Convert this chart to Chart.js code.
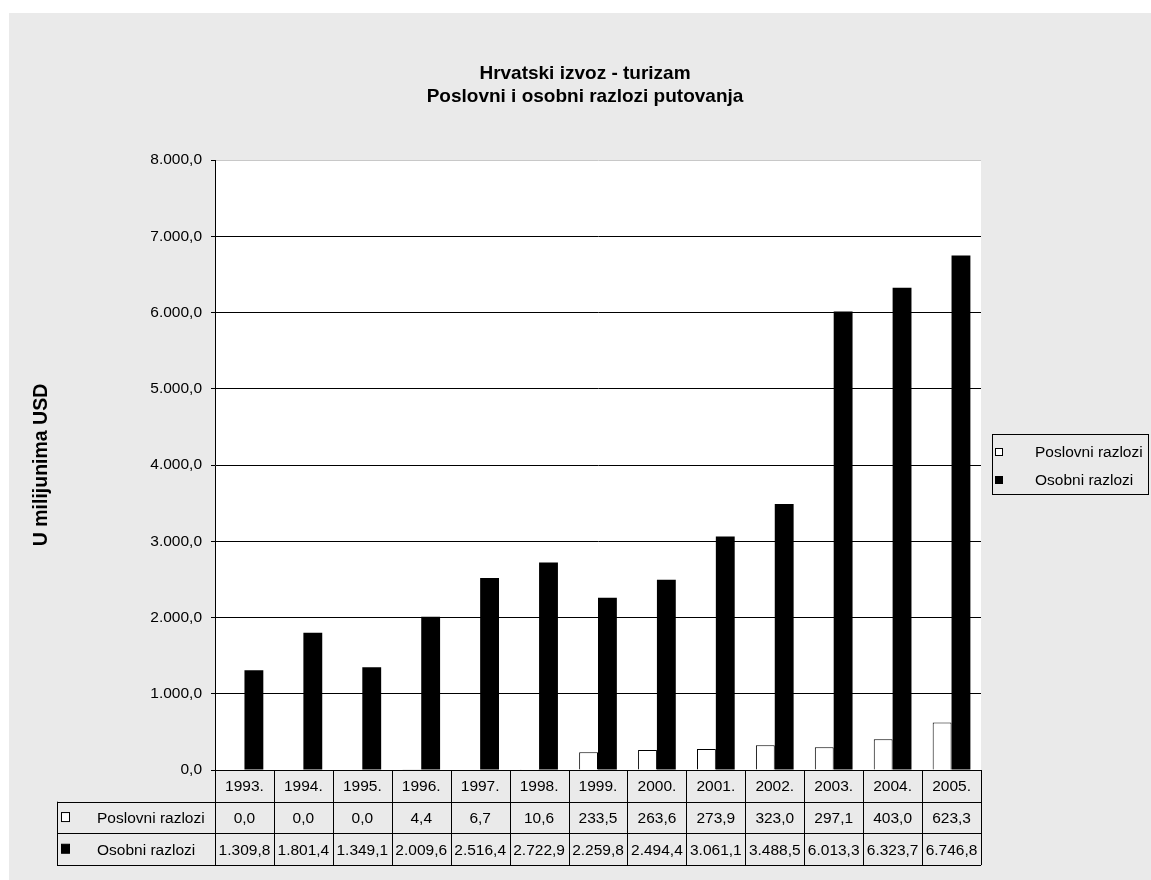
<!DOCTYPE html>
<html lang="hr">
<head>
  <meta charset="UTF-8" />
  <title>Hrvatski izvoz - turizam</title>
  <style>
    html, body {
      margin: 0;
      padding: 0;
      width: 100%;
      height: 100%;
      overflow: hidden;
      background-color: white;
    }
    #panel {
      position: absolute;
      left: 9px;
      top: 13px;
      width: 1152px;
      height: 867px;
      background-color: #eaeaea;
    }
  </style>
  <script src="https://cdn.jsdelivr.net/npm/chart.js"></script>
</head>
<body>
  <div id="panel">
    <canvas id="chart"></canvas>
  </div>

  <script>
    const years = ['1993.', '1994.', '1995.', '1996.', '1997.', '1998.', '1999.',
                   '2000.', '2001.', '2002.', '2003.', '2004.', '2005.'];
    const poslovni = [0.0, 0.0, 0.0, 4.4, 6.7, 10.6, 233.5, 263.6, 273.9, 323.0, 297.1, 403.0, 623.3];
    const osobni = [1309.8, 1801.4, 1349.1, 2009.6, 2516.4, 2722.9, 2259.8, 2494.4,
                    3061.1, 3488.5, 6013.3, 6323.7, 6746.8];
    const seriesNames = ['Poslovni razlozi', 'Osobni razlozi'];
    const titleLines = ['Hrvatski izvoz - turizam', 'Poslovni i osobni razlozi putovanja'];
    const yTitle = 'U milijunima USD';

    const FONT = "'Liberation Sans', Arial, sans-serif";
    const PANEL = '#eaeaea';

    // 1309.8 -> "1.309,8"
    function fmt(v) {
      const parts = v.toFixed(1).split('.');
      return parts[0].replace(/\B(?=(\d{3})+(?!\d))/g, '.') + ',' + parts[1];
    }

    // white plot area behind the bars
    const plotBackground = {
      id: 'plotBackground',
      beforeDraw: (chart) => {
        const a = chart.chartArea;
        const ctx = chart.ctx;
        ctx.save();
        ctx.fillStyle = 'white';
        ctx.fillRect(a.left, a.top, a.right - a.left, a.bottom - a.top);
        ctx.restore();
      }
    };

    // data table under the plot, plus the boxed legend on the right
    const tableAndLegend = {
      id: 'tableAndLegend',
      afterDraw: (chart) => {
        const ctx = chart.ctx;
        const x = chart.scales.x;
        const a = chart.chartArea;
        const n = years.length;
        const cellW = (x.right - x.left) / n;
        const rowH = 31.7;
        const headLeft = 48;
        const y0 = a.bottom;
        const rows = [y0, y0 + rowH, y0 + 2 * rowH, y0 + 3 * rowH];
        const fills = ['white', 'black'];

        ctx.save();
        ctx.font = '15.5px ' + FONT;
        ctx.fillStyle = PANEL;
        ctx.fillRect(a.left, rows[0], a.right - a.left, rows[3] - rows[0]);
        ctx.fillRect(headLeft, rows[1], a.left - headLeft, rows[3] - rows[1]);

        ctx.strokeStyle = '#000';
        ctx.lineWidth = 1;
        ctx.beginPath();
        ctx.moveTo(a.left, rows[0] + 0.5); ctx.lineTo(a.right, rows[0] + 0.5);
        for (let r = 1; r < 4; r++) {
          const yy = Math.round(rows[r]) + 0.5;
          ctx.moveTo(headLeft, yy); ctx.lineTo(a.right, yy);
        }
        ctx.moveTo(headLeft + 0.5, rows[1]); ctx.lineTo(headLeft + 0.5, rows[3]);
        for (let i = 0; i <= n; i++) {
          const xx = Math.round(x.getPixelForValue(i) - cellW / 2) + 0.5;
          ctx.moveTo(xx, rows[0]); ctx.lineTo(xx, rows[3]);
        }
        ctx.stroke();

        ctx.fillStyle = '#000';
        ctx.textAlign = 'center';
        ctx.textBaseline = 'middle';
        for (let i = 0; i < n; i++) {
          const cx = x.getPixelForValue(i);
          ctx.fillText(years[i], cx, (rows[0] + rows[1]) / 2 + 1);
          ctx.fillText(fmt(poslovni[i]), cx, (rows[1] + rows[2]) / 2 + 1);
          ctx.fillText(fmt(osobni[i]), cx, (rows[2] + rows[3]) / 2 + 1);
        }

        // row headers
        ctx.textAlign = 'left';
        for (let s = 0; s < 2; s++) {
          const cy = (rows[s + 1] + rows[s + 2]) / 2;
          ctx.fillStyle = fills[s];
          ctx.fillRect(52.5, cy - 5, 8, 9);
          ctx.strokeRect(52.5, cy - 5, 8, 9);
          ctx.fillStyle = '#000';
          ctx.fillText(seriesNames[s], 88, cy + 1);
        }

        // legend
        const lx = 983, ly = 421, lw = 156, lh = 60;
        ctx.strokeRect(lx + 0.5, ly + 0.5, lw, lh);
        for (let s = 0; s < 2; s++) {
          const cy = ly + 18 + s * 28;
          ctx.fillStyle = fills[s];
          ctx.fillRect(986.5, cy - 3.5, 7, 7);
          ctx.strokeRect(986.5, cy - 3.5, 7, 7);
          ctx.fillStyle = '#000';
          ctx.fillText(seriesNames[s], 1026, cy + 1);
        }
        ctx.restore();
      }
    };

    Chart.defaults.font.family = FONT;
    Chart.defaults.color = '#000';

    const ctx = document.getElementById('chart').getContext('2d');
    new Chart(ctx, {
      type: 'bar',
      data: {
        labels: years,
        datasets: [
          {
            label: seriesNames[0],
            data: poslovni,
            backgroundColor: 'white',
            borderColor: 'black',
            borderWidth: 1,
            yAxisID: 'y'
          },
          {
            label: seriesNames[1],
            data: osobni,
            backgroundColor: 'black',
            borderColor: 'black',
            borderWidth: 0,
            yAxisID: 'y'
          }
        ]
      },
      options: {
        responsive: true,
        maintainAspectRatio: false,
        devicePixelRatio: 1,
        animation: false,
        layout: { padding: { left: 0, right: 0, top: 0, bottom: 110 } },
        datasets: { bar: { categoryPercentage: 0.64, barPercentage: 1.0 } },
        plugins: {
          legend: { display: false },
          tooltip: { enabled: false },
          title: {
            display: true,
            text: titleLines,
            color: '#000',
            font: { size: 19, weight: 'bold', lineHeight: 1.2 },
            padding: { top: 49.6, bottom: 51.8 }
          }
        },
        scales: {
          x: {
            display: false
          },
          y: {
            position: 'left',
            min: 0,
            max: 8000,
            ticks: {
              stepSize: 1000,
              padding: 9,
              font: { size: 15.5 },
              color: '#000',
              callback: v => fmt(v)
            },
            grid: {
              color: c => (c.tick && c.tick.value === 8000) ? '#c8c8c8' : '#000',
              tickColor: '#000',
              tickLength: 4,
              lineWidth: 1
            },
            border: { display: true, color: '#000', width: 1 },
            title: {
              display: true,
              text: yTitle,
              color: '#000',
              font: { size: 19.5, weight: 'bold', lineHeight: 1.2 },
              padding: { top: 21, bottom: 0 }
            },
            afterFit: s => { s.width = 206; }
          },
          // empty right axis, only keeps room for the legend
          yRoom: {
            position: 'right',
            display: true,
            ticks: { display: false },
            grid: { display: false },
            border: { display: false },
            afterFit: s => { s.width = 180; }
          }
        }
      },
      plugins: [plotBackground, tableAndLegend]
    });
  </script>
</body>
</html>
